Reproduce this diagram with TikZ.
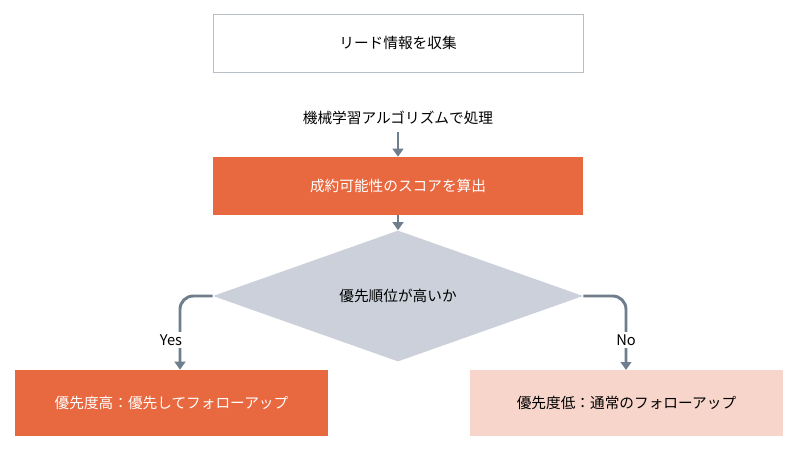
\documentclass[tikz,border=0pt]{standalone}
\usepackage{fontspec}
\newfontfamily\jpfont{Noto Sans CJK JP}
\usetikzlibrary{shapes.geometric,arrows.meta}
\definecolor{leadorange}{HTML}{E8683F}
\definecolor{leadpink}{HTML}{F8D5CA}
\definecolor{leadgray}{HTML}{CBD0DA}
\definecolor{linegray}{HTML}{6F7E8C}
\definecolor{framegray}{HTML}{B8BEC6}
\begin{document}
\begin{tikzpicture}[x=0.75pt, y=-0.75pt, every node/.style={font=\jpfont\fontsize{11}{13}\selectfont}]
    \tikzstyle{box} = [rectangle, draw=framegray, fill=white, minimum width=277.5pt, minimum height=43.5pt]
    \tikzstyle{process} = [rectangle, fill=leadorange, text=white, minimum width=277.5pt, minimum height=43.5pt]
    \tikzstyle{result} = [rectangle, minimum width=234.75pt, minimum height=49.5pt]
    \tikzstyle{flow} = [draw=linegray, line width=2.2pt, -{Triangle[length=6pt,width=8pt]}]
    \useasboundingbox (0,0) rectangle (800,453);
    \node (collect) [box] at (398,43) {リード情報を収集};
    \node (score) [process] at (398,186) {成約可能性のスコアを算出};
    \node (priority) [diamond, fill=leadgray, minimum width=277.5pt, minimum height=76.5pt, inner sep=0pt] at (398,296) {優先順位が高いか};
    \node (high) [result, fill=leadorange, text=white] at (171.5,403) {優先度高：優先してフォローアップ};
    \node (low) [result, fill=leadpink] at (626.5,403) {優先度低：通常のフォローアップ};
    \coordinate (ml) at (398,132);

    \node (mllabel) at (398,118) {機械学習アルゴリズムで処理};
    \draw [flow] (ml) -- (score);
    \draw [flow] (score) -- (priority.north);
    \draw [flow, rounded corners=10pt] (priority.west) -- (180,296) -- (high.north -| 180,0);
    \draw [flow, rounded corners=10pt] (priority.east) -- (626,296) -- (626,370);
    \node (yes) [fill=white, inner sep=2pt] at (171,340) {Yes};
    \node (no) [fill=white, inner sep=2pt] at (626,340) {No};
\end{tikzpicture}
\end{document}
